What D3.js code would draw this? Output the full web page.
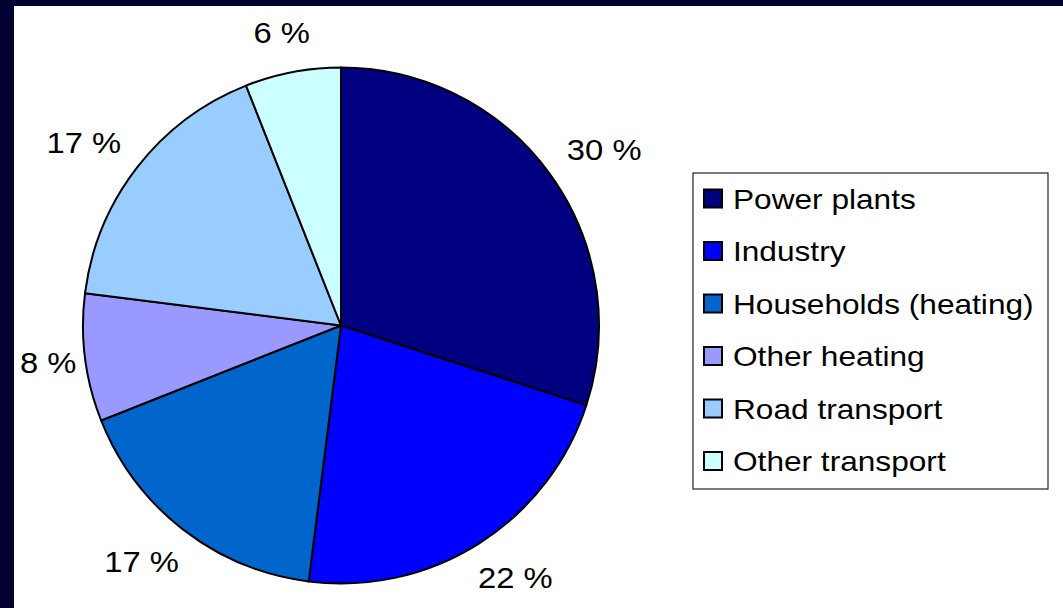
<!DOCTYPE html>
<html><head><meta charset="utf-8">
<script src="https://cdn.jsdelivr.net/npm/d3@7"></script>
<style>
html,body{margin:0;padding:0;background:#000033;}
svg{display:block;}
text{font-family:"Liberation Sans",Arial,sans-serif;fill:#000;}
</style></head>
<body>
<svg id="chart" width="1063" height="608"></svg>
<script>
const categories = ["Power plants","Industry","Households (heating)","Other heating","Road transport","Other transport"];
const values = [30, 22, 17, 8, 17, 6];
const colors = ["#000080","#0000FF","#0066CC","#9999FF","#99CCFF","#CCFFFF"];

const W = 1063, H = 608;
const svg = d3.select("#chart");
svg.append("rect").attr("x",0).attr("y",0).attr("width",W).attr("height",H).attr("fill","#000033");
svg.append("rect").attr("x",14).attr("y",6).attr("width",W-14).attr("height",H-6).attr("fill","#ffffff");

const cx = 341, cy = 325.5, R = 258;
const data = categories.map((c,i)=>({name:c, value:values[i], color:colors[i]}));
const pie = d3.pie().value(d=>d.value).sort(null);
const arcs = pie(data);
const arc = d3.arc().innerRadius(0).outerRadius(R);

const g = svg.append("g").attr("transform",`translate(${cx},${cy})`);
g.selectAll("path.slice").data(arcs).join("path")
  .attr("class","slice")
  .attr("d",arc)
  .attr("fill",d=>d.data.color)
  .attr("stroke","#000")
  .attr("stroke-width",2)
  .attr("stroke-linejoin","round");

// Labels: box placed outside the slice along its mid-angle, clamped into the chart area
const SX = 1.13, FS = 29, LR = 288, capH = FS*0.716;
const labels = g.selectAll("text.lbl").data(arcs).join("text")
  .attr("class","lbl")
  .attr("text-anchor","middle")
  .attr("dy","0.358em")
  .attr("font-size",FS)
  .text(d=>d.data.value+" %");
labels.each(function(d){
  const w = this.getComputedTextLength()*SX;
  const a = (d.startAngle+d.endAngle)/2;
  let x = Math.sin(a)*LR + Math.sin(a)*w/2;
  let y = -Math.cos(a)*LR - Math.cos(a)*capH/2;
  const minX = 20 - cx + w/2;
  if (x < minX) x = minX;
  d3.select(this).attr("transform",`translate(${x},${y}) scale(${SX},1)`);
});

// Legend
const lg = svg.append("g");
lg.append("rect").attr("x",693).attr("y",173).attr("width",355).attr("height",316)
  .attr("fill","#fff").attr("stroke","#222").attr("stroke-width",1.2);
const rowY = d3.scaleLinear().domain([0, categories.length-1]).range([198.5, 461]);
const items = lg.selectAll("g.item").data(data).join("g").attr("class","item")
  .attr("transform",(d,i)=>`translate(704,${rowY(i)})`);
items.append("rect").attr("x",0).attr("y",-9).attr("width",18).attr("height",18)
  .attr("fill",d=>d.color).attr("stroke","#000").attr("stroke-width",2);
items.append("text").attr("transform","translate(29,0) scale(1.13,1)")
  .attr("dy","0.36em").attr("font-size",28).text(d=>d.name);
</script>
</body></html>
